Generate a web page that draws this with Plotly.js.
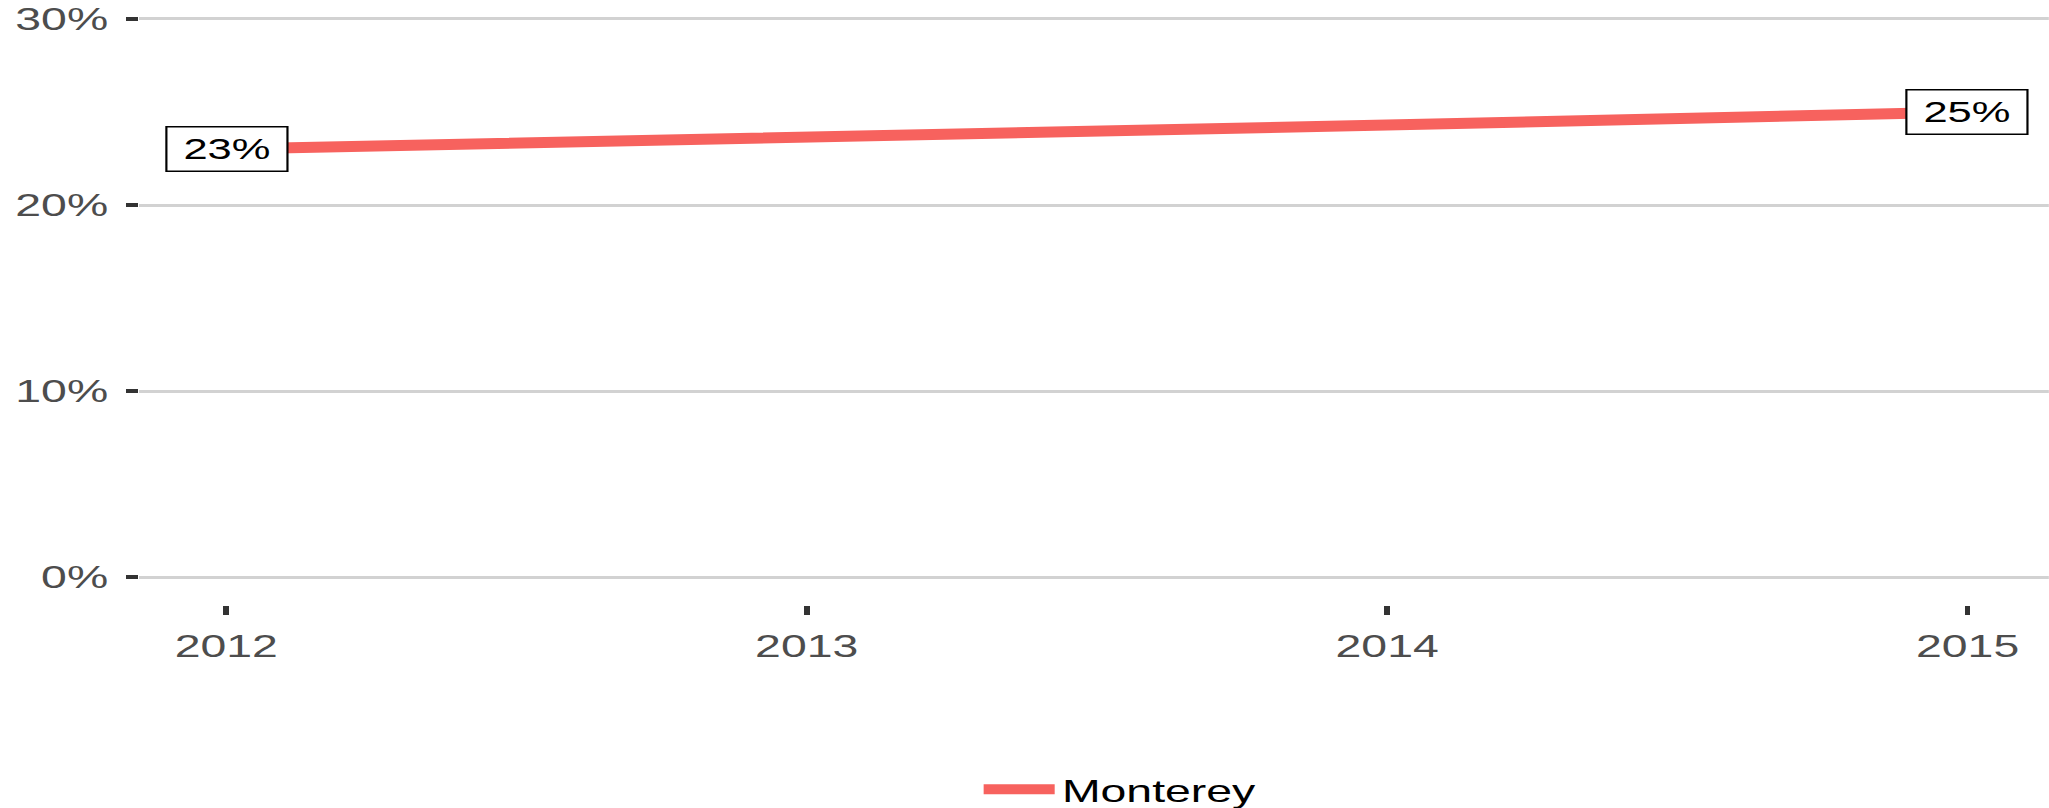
<!DOCTYPE html>
<html>
<head>
<meta charset="utf-8">
<script src="https://cdn.plot.ly/plotly-3.0.1.min.js"></script>
<style>
  html, body { margin: 0; padding: 0; background: #fff; overflow: hidden; }
  #wrap { width: 2049px; height: 808px; overflow: hidden; }
  /* the reference is stretched horizontally, so draw narrow and stretch */
  #chart { transform-origin: 0 0; }
</style>
</head>
<body>
<div id="wrap"><div id="chart"></div></div>
<script>
// stretch factor of the reference picture
const stretch = 1.45;

const years = [2012, 2013, 2014, 2015];
const share = [0.23, 0.236, 0.243, 0.25];
const seriesName = 'Monterey';
const yTicks = [0, 0.1, 0.2, 0.3];

const W = 2049 / stretch;
const H = 808;
const chartDiv = document.getElementById('chart');
chartDiv.style.width = W + 'px';
chartDiv.style.height = H + 'px';
chartDiv.style.transform = 'scaleX(' + stretch + ')';

let trace = {
  x: years,
  y: share,
  type: 'scatter',
  mode: 'lines',
  name: seriesName,
  line: {color: '#F7625E', width: 11},
  hoverinfo: 'skip'
};

// labels only at the first and last year
let endLabels = [0, years.length - 1].map(i => ({
  x: years[i],
  y: share[i],
  xref: 'x',
  yref: 'y',
  text: Math.round(share[i] * 100) + '%',
  showarrow: false,
  font: {family: 'Liberation Sans, Arial, sans-serif', size: 30, color: '#000'},
  bgcolor: '#fff',
  bordercolor: '#000',
  borderwidth: 1.5,
  borderpad: 3,
  width: 76,
  height: 37
}));

let layout = {
  width: W,
  height: H,
  margin: {l: 139 / stretch, r: 0, t: 0, b: 203, autoexpand: false},
  paper_bgcolor: '#fff',
  plot_bgcolor: '#fff',
  font: {family: 'Liberation Sans, Arial, sans-serif', size: 32, color: '#4d4d4d'},
  showlegend: true,
  legend: {
    orientation: 'h',
    x: 0.4384,
    xanchor: 'left',
    y: -0.305,
    yanchor: 'middle',
    itemwidth: 49,
    font: {size: 32, color: '#000'}
  },
  xaxis: {
    range: [2011.85, 2015.14],
    tickvals: years,
    tickformat: 'd',
    showgrid: false,
    zeroline: false,
    showline: false,
    ticks: 'outside',
    ticklen: 9,
    tickwidth: 4,
    tickcolor: '#333',
    ticklabelstandoff: 4,
    title: {text: ''}
  },
  yaxis: {
    range: [-0.015, 0.3102],
    tickvals: yTicks,
    tickformat: '.0%',
    showgrid: true,
    gridcolor: '#d2d2d2',
    gridwidth: 3,
    zeroline: false,
    showline: false,
    ticks: 'outside',
    ticklen: 8,
    tickwidth: 4,
    tickcolor: '#333',
    ticklabelstandoff: 6,
    title: {text: ''}
  },
  annotations: endLabels
};

Plotly.newPlot('chart', [trace], layout, {displayModeBar: false, staticPlot: true});
</script>
</body>
</html>
